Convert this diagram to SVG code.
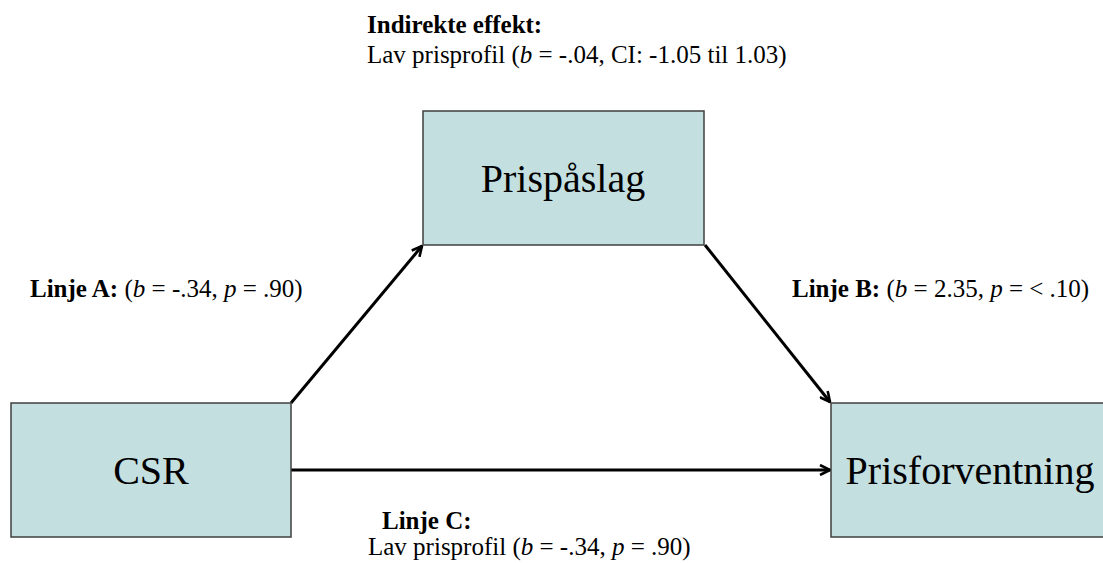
<svg xmlns="http://www.w3.org/2000/svg" width="1103" height="563" viewBox="0 0 1103 563">
<style>
.box{fill:#c4dfe0;stroke:#3f3f3f;stroke-width:1.5}
.lbl{font-family:"Liberation Serif","Times New Roman",serif;font-size:40px;fill:#000;text-anchor:middle}
.t{font-family:"Liberation Serif","Times New Roman",serif;font-size:25px;fill:#000}
.b{font-weight:bold}
.i{font-style:italic}
.edge{stroke:#000;stroke-width:3;fill:none;marker-end:url(#ah)}
</style>
<defs>
<marker id="ah" viewBox="0 0 12 12" refX="11" refY="6" markerWidth="12" markerHeight="12" markerUnits="userSpaceOnUse" orient="auto">
<polyline points="1,1 11,6 1,11" fill="none" stroke="#000" stroke-width="2.6"/>
</marker>
</defs>
<rect width="1103" height="563" fill="#fff"/>
<g id="connectors">
<line class="edge" x1="291" y1="403" x2="422" y2="246"/>
<line class="edge" x1="705" y1="245" x2="830" y2="402"/>
<line class="edge" x1="291" y1="470" x2="830" y2="470"/>
</g>
<g id="node-prispaslag">
<rect class="box" x="423" y="111" width="281" height="134"/>
<text class="lbl" x="563" y="192">Prispåslag</text>
</g>
<g id="node-csr">
<rect class="box" x="11" y="403" width="280" height="134"/>
<text class="lbl" x="151" y="484">CSR</text>
</g>
<g id="node-prisforventning">
<rect class="box" x="831" y="403" width="280" height="134"/>
<text class="lbl" x="970" y="484">Prisforventning</text>
</g>
<g id="labels">
<text class="t b" x="367" y="33">Indirekte effekt:</text>
<text class="t" x="367" y="63">Lav prisprofil (<tspan class="i">b</tspan> = -.04, CI: -1.05 til 1.03)</text>
<text class="t" x="30" y="297"><tspan class="b">Linje A:</tspan> (<tspan class="i">b</tspan> = -.34, <tspan class="i">p</tspan> = .90)</text>
<text class="t" x="792" y="297"><tspan class="b">Linje B:</tspan> (<tspan class="i">b</tspan> = 2.35, <tspan class="i">p</tspan> = &lt; .10)</text>
<text class="t b" x="382" y="529">Linje C:</text>
<text class="t" x="368" y="555">Lav prisprofil (<tspan class="i">b</tspan> = -.34, <tspan class="i">p</tspan> = .90)</text>
</g>
</svg>
